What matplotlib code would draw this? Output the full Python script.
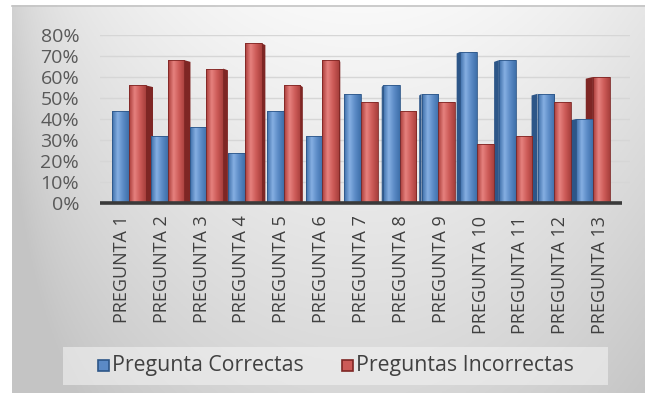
import numpy as np
import matplotlib.pyplot as plt
from matplotlib.patches import Polygon, Rectangle
from matplotlib.colors import LinearSegmentedColormap

categorias = [f"PREGUNTA {i}" for i in range(1, 14)]
correctas = [0.44, 0.32, 0.36, 0.24, 0.44, 0.32, 0.52, 0.56, 0.52, 0.72, 0.68, 0.52, 0.40]
incorrectas = [0.56, 0.68, 0.64, 0.76, 0.56, 0.68, 0.48, 0.44, 0.48, 0.28, 0.32, 0.48, 0.60]
ticks_y = [0, 0.1, 0.2, 0.3, 0.4, 0.5, 0.6, 0.7, 0.8]
serie_nombres = ["Pregunta Correctas", "Preguntas Incorrectas"]

plt.rcParams['font.family'] = ['Open Sans', 'DejaVu Sans']

W, H = 645, 393
fig = plt.figure(figsize=(W / 100, H / 100), dpi=100)

# background panel with soft gray gradient
bg = fig.add_axes([0, 0, 1, 1])
bg.set_xlim(0, W)
bg.set_ylim(H, 0)
bg.axis('off')
yy, xx = np.mgrid[0:1:200j, 0:1:300j]
shade = (0.975 - 0.13 * yy - 0.07 * ((xx - 0.55) / 0.45) ** 2
         - 0.05 * np.exp(-xx / 0.04))
shade = np.clip(shade, 0.77, 0.98)
bg.imshow(np.dstack([shade] * 3), extent=(12, W, H, 5), aspect='auto', zorder=0)
bg.plot([12, W], [5.5, 5.5], color='#c4c4c4', lw=1.2, zorder=1)
bg.add_patch(Rectangle((63, 347), 545, 38, facecolor='#f2f2f2', edgecolor='none',
                       alpha=0.6, zorder=2))

ax = fig.add_axes([100 / W, 190 / H, 530 / W, 168 / H])
ax.set_facecolor('none')
for s in ax.spines.values():
    s.set_visible(False)

for v in ticks_y[1:]:
    ax.plot([-0.55, 12.75], [v, v], color='#d6d6d6', lw=1, zorder=1)

azul = LinearSegmentedColormap.from_list('az', ['#3d6ea8', '#85afe2', '#5b8ac6', '#3f70aa'])
rojo = LinearSegmentedColormap.from_list('ro', ['#a83c39', '#e6817e', '#cc5a57', '#a8403d'])
grad = np.linspace(0, 1, 64).reshape(1, -1)

w = 0.42
x = np.arange(len(categorias))
# bars sit slightly toward the middle, as on a perspective floor
xb = 6 + (x - 6) * 0.97
series = [(correctas, -w / 2, azul, '#2d5688'), (incorrectas, w / 2, rojo, '#7e2624')]

# side faces first, then fronts on top
for vals, off, cmap, side in series:
    for i, v in enumerate(vals):
        d = 0.03 * (6 - i)
        x0 = xb[i] + off - w / 2
        x1 = xb[i] + off + w / 2
        if d > 0:
            pts = [(x1, 0), (x1 + d, 0.004), (x1 + d, v - 0.008), (x1, v)]
        elif d < 0:
            pts = [(x0, 0), (x0 + d, 0.004), (x0 + d, v - 0.008), (x0, v)]
        else:
            continue
        ax.add_patch(Polygon(pts, closed=True, facecolor=side, edgecolor='none', zorder=2))

for vals, off, cmap, side in series:
    bars = ax.bar(xb + off, vals, width=w, color='none', edgecolor=side, linewidth=0.6, zorder=4)
    for b in bars:
        im = ax.imshow(grad, cmap=cmap, aspect='auto', zorder=3,
                       extent=(b.get_x(), b.get_x() + b.get_width(), 0, b.get_height()))
        im.set_clip_path(b)

ax.set_xlim(-0.55, 12.75)
ax.set_ylim(0, 0.8)
ax.plot([-0.55, 12.55], [0, 0], color='#3a3a3a', lw=2.6, zorder=5, clip_on=False,
        solid_capstyle='butt')

ax.set_yticks(ticks_y)
ax.set_yticklabels([f"{int(round(t * 100))}%" for t in ticks_y], fontsize=14, color='#595959')
ax.set_xticks(x)
ax.set_xticklabels(categorias, rotation=90, fontsize=13, color='#404040')
ax.tick_params(axis='y', length=0, pad=15)
ax.tick_params(axis='x', length=0, pad=9)

# legend
for k, (nombre, col, borde) in enumerate(zip(serie_nombres, ['#5b8ac6', '#cc5a57'],
                                             ['#2d5688', '#7e2624'])):
    lx = [98, 342][k]
    bg.add_patch(Rectangle((lx, 360), 11, 11, facecolor=col, edgecolor=borde, lw=1.2, zorder=3))
    bg.text(lx + 14, 366, nombre, fontsize=15.3, color='#404040', va='center', ha='left', zorder=3)

fig.savefig('out.png', dpi=100)
